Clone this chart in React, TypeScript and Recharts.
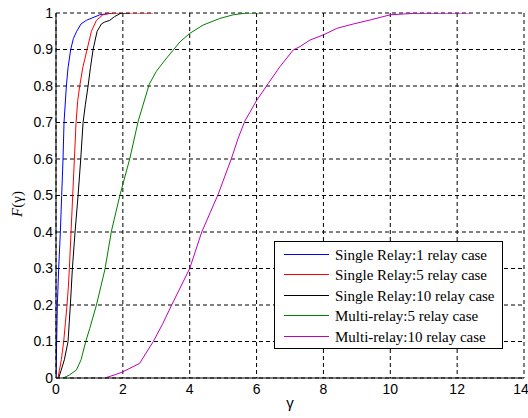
import React from 'react';
import { LineChart, Line, XAxis, YAxis, CartesianGrid, Customized } from 'recharts';

const xTicks = [0, 2, 4, 6, 8, 10, 12, 14];
const yTicks = [0, 0.1, 0.2, 0.3, 0.4, 0.5, 0.6, 0.7, 0.8, 0.9, 1];

const seriesNames = [
  'Single Relay:1 relay case',
  'Single Relay:5 relay case',
  'Single Relay:10 relay case',
  'Multi-relay:5 relay case',
  'Multi-relay:10 relay case',
];
const seriesColors = ['#0000ff', '#ff0000', '#000000', '#008000', '#bf00bf'];

const single1X = [0, 0.01, 0.02, 0.04, 0.08, 0.13, 0.17, 0.21, 0.24, 0.31, 0.36, 0.44, 0.52, 0.62, 0.75, 0.91, 1.31, 1.7];
const single1Y = [0, 0.05, 0.1, 0.2, 0.3, 0.4, 0.5, 0.6, 0.7, 0.8, 0.85, 0.9, 0.93, 0.95, 0.97, 0.98, 0.995, 1];

const single5X = [0.06, 0.1, 0.16, 0.23, 0.28, 0.33, 0.37, 0.4, 0.45, 0.5, 0.55, 0.6, 0.65, 0.71, 0.8, 0.93, 1.06, 1.21, 1.4, 1.6, 1.9, 2.9];
const single5Y = [0, 0.02, 0.05, 0.1, 0.15, 0.2, 0.25, 0.3, 0.4, 0.5, 0.6, 0.7, 0.76, 0.8, 0.85, 0.9, 0.95, 0.98, 0.995, 0.999, 1, 1];

const single10X = [0.08, 0.15, 0.25, 0.36, 0.43, 0.49, 0.57, 0.66, 0.74, 0.81, 0.88, 0.96, 1.03, 1.11, 1.23, 1.36, 1.45, 1.61, 1.75, 1.95, 2.2];
const single10Y = [0, 0.02, 0.05, 0.1, 0.2, 0.3, 0.4, 0.5, 0.6, 0.7, 0.75, 0.8, 0.85, 0.9, 0.95, 0.97, 0.975, 0.98, 0.99, 1, 1];

const multi5X = [0.21, 0.4, 0.61, 0.75, 0.89, 1.01, 1.21, 1.46, 1.66, 1.91, 2.21, 2.46, 2.79, 3.0, 3.26, 3.71, 4.0, 4.4, 4.9, 5.3, 5.7, 6.2];
const multi5Y = [0, 0.008, 0.022, 0.05, 0.1, 0.136, 0.2, 0.296, 0.403, 0.5, 0.602, 0.704, 0.805, 0.84, 0.871, 0.921, 0.944, 0.967, 0.985, 0.995, 1, 1];

const multi10X = [1.46, 1.8, 2.0, 2.5, 2.91, 3.2, 3.46, 4.0, 4.36, 4.85, 5.25, 5.45, 5.65, 6.0, 6.35, 6.7, 7.1, 7.3, 7.6, 8.0, 8.4, 8.9, 9.4, 10.0, 10.7, 12.4];
const multi10Y = [0, 0.01, 0.017, 0.04, 0.1, 0.15, 0.2, 0.3, 0.4, 0.503, 0.602, 0.657, 0.704, 0.76, 0.807, 0.853, 0.899, 0.908, 0.926, 0.94, 0.958, 0.97, 0.981, 0.995, 0.999, 1];

const toPoints = (xs: number[], ys: number[]) => xs.map((x, i) => ({ x, y: ys[i] }));

const seriesData = [
  toPoints(single1X, single1Y),
  toPoints(single5X, single5Y),
  toPoints(single10X, single10Y),
  toPoints(multi5X, multi5Y),
  toPoints(multi10X, multi10Y),
];

const sansFont = '"Liberation Sans", Arial, sans-serif';
const serifFont = '"Liberation Serif", "Times New Roman", serif';

const LegendBox = () => (
  <div
    style={{
      position: 'absolute',
      left: 274,
      top: 241,
      width: 227,
      height: 106,
      border: '1px solid #000',
      background: '#fff',
    }}
  >
    {seriesNames.map((name, i) => {
      const rowTop = Math.round(3 + i * 20.4);
      return (
        <React.Fragment key={name}>
          <div
            style={{
              position: 'absolute',
              left: 9,
              top: rowTop + 9,
              width: 45,
              height: 1,
              background: seriesColors[i],
            }}
          />
          <span
            style={{
              position: 'absolute',
              left: 60,
              top: rowTop + 1,
              lineHeight: '18px',
              fontFamily: serifFont,
              fontSize: 15,
              color: '#000',
              whiteSpace: 'nowrap',
            }}
          >
            {name}
          </span>
        </React.Fragment>
      );
    })}
  </div>
);

const YLabel = () => (
  <text
    transform="translate(22,204) rotate(-90)"
    textAnchor="middle"
    fontFamily={serifFont}
    fontSize={15}
    fill="#000"
  >
    <tspan fontStyle="italic">F</tspan>
    <tspan>(γ)</tspan>
  </text>
);

export default function App() {
  return (
    <div style={{ position: 'absolute', left: 0, top: 0, width: 528, height: 418, background: '#fff' }}>
      <LineChart width={528} height={418} margin={{ top: 13, right: 4, bottom: 0, left: 0 }}>
        <CartesianGrid stroke="#000" strokeDasharray="4 3" strokeWidth={1} />
        <XAxis
          type="number"
          dataKey="x"
          domain={[0, 14]}
          ticks={xTicks}
          allowDataOverflow
          height={40}
          tickLine={false}
          tickSize={3}
          tickMargin={3}
          axisLine={{ stroke: '#000' }}
          tick={{ fill: '#000', fontSize: 14, fontFamily: sansFont }}
          label={{ value: 'γ', position: 'insideBottom', offset: 10, fill: '#000', fontSize: 15, fontFamily: sansFont }}
        />
        <XAxis xAxisId="top" orientation="top" type="number" domain={[0, 14]} height={0} tick={false} tickLine={false} axisLine={{ stroke: '#000' }} />
        <YAxis
          type="number"
          domain={[0, 1]}
          ticks={yTicks}
          allowDataOverflow
          width={56}
          tickLine={false}
          tickSize={3}
          tickMargin={0}
          axisLine={{ stroke: '#000' }}
          tick={{ fill: '#000', fontSize: 14, fontFamily: sansFont }}
          tickFormatter={(v: number) => String(Math.round(v * 10) / 10)}
        />
        <YAxis yAxisId="right" orientation="right" type="number" domain={[0, 1]} width={0} tick={false} tickLine={false} axisLine={{ stroke: '#000' }} />
        {seriesData.map((d, i) => (
          <Line
            key={seriesNames[i]}
            data={d}
            dataKey="y"
            name={seriesNames[i]}
            type="linear"
            stroke={seriesColors[i]}
            strokeWidth={1}
            dot={false}
            activeDot={false}
            isAnimationActive={false}
          />
        ))}
        <Customized component={YLabel} />
      </LineChart>
      <LegendBox />
    </div>
  );
}
